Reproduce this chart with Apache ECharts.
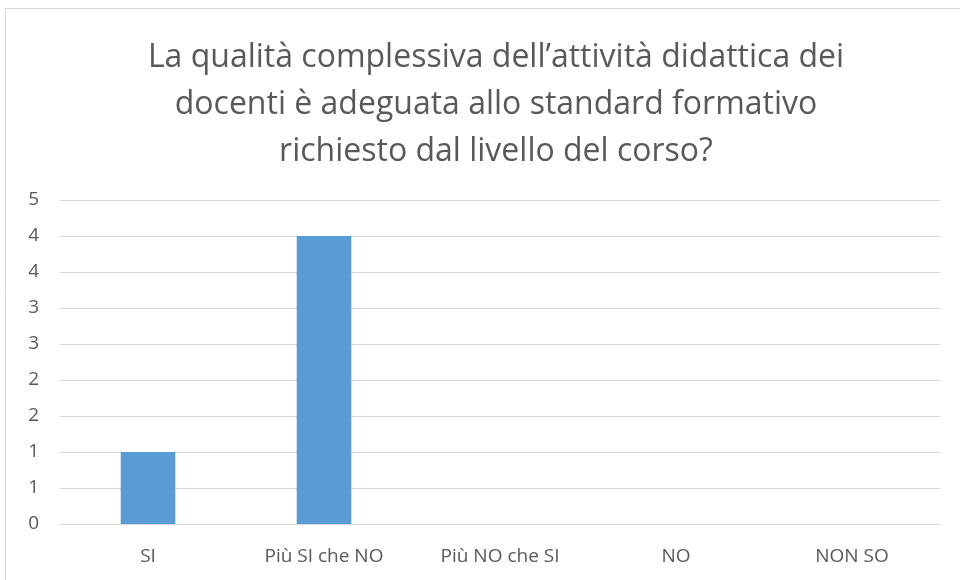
<!DOCTYPE html>
<html>
<head>
<meta charset="utf-8">
<script src="https://cdn.jsdelivr.net/npm/echarts@6/dist/echarts.min.js"></script>
<style>
  html, body { margin: 0; padding: 0; background: #fff; }
  #chart { width: 960px; height: 580px; }
</style>
</head>
<body>
<div id="chart"></div>
<script>
const titleLines = [
  "La qualità complessiva dell\u2019attività didattica dei",
  "docenti è adeguata allo standard formativo",
  "richiesto dal livello del corso?"
];
const categories = ["SI", "Più SI che NO", "Più NO che SI", "NO", "NON SO"];
const values = [1, 4, 0, 0, 0];
const yMax = 4.5;
const yStep = 0.5;

const textColor = "#595959";
const gridColor = "#d9d9d9";
const barColor = "#5b9bd5";
const font = "Open Sans";

const chart = echarts.init(document.getElementById("chart"));
chart.setOption({
  backgroundColor: "#fff",
  animation: false,
  graphic: [{
    type: "rect",
    shape: { x: 5.5, y: 8.5, width: 1000, height: 700 },
    style: { fill: "none", stroke: gridColor, lineWidth: 1 }
  }],
  title: {
    text: titleLines.join("\n"),
    left: 491,
    textAlign: "center",
    top: 29,
    textStyle: {
      fontFamily: font,
      fontWeight: "normal",
      fontSize: 32,
      lineHeight: 47,
      color: textColor
    }
  },
  grid: { left: 60, right: 20, top: 200, bottom: 56 },
  xAxis: {
    type: "category",
    data: categories,
    axisLine: { lineStyle: { color: gridColor, width: 1 } },
    axisTick: { show: false },
    axisLabel: { color: textColor, fontFamily: font, fontSize: 19, margin: 23 }
  },
  yAxis: {
    type: "value",
    min: 0,
    max: yMax,
    interval: yStep,
    axisLine: { show: false },
    axisTick: { show: false },
    splitLine: { lineStyle: { color: gridColor, width: 1 } },
    axisLabel: {
      color: textColor,
      fontFamily: font,
      fontSize: 19,
      margin: 21,
      formatter: v => String(Math.round(v + 1e-9))
    }
  },
  series: [{
    type: "bar",
    data: values,
    barWidth: "31%",
    itemStyle: { color: barColor }
  }]
});
</script>
</body>
</html>
